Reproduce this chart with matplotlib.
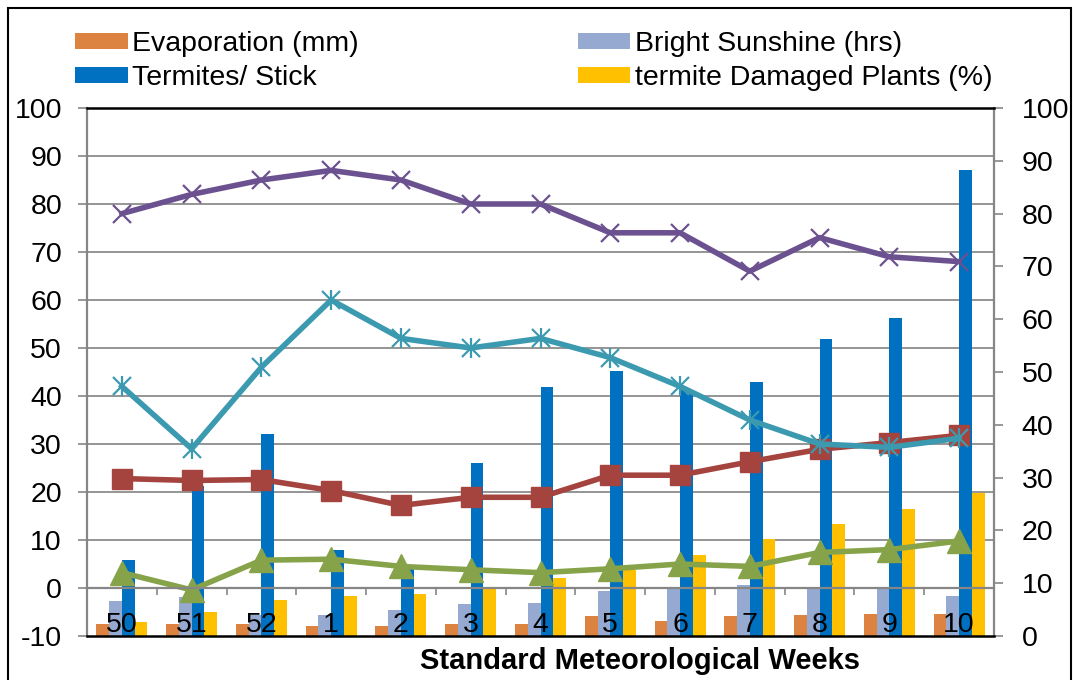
import matplotlib
matplotlib.use('Agg')
import matplotlib.pyplot as plt
from matplotlib.patches import Rectangle, Patch
from matplotlib.transforms import blended_transform_factory
import numpy as np

plt.rcParams['font.family'] = ['Liberation Sans', 'DejaVu Sans']

# ---------------- data ----------------
weeks = ['50', '51', '52', '1', '2', '3', '4', '5', '6', '7', '8', '9', '10']

# bars (right axis, 0-100)
evaporation = [2.2, 2.2, 2.2, 1.9, 1.9, 2.2, 2.2, 3.8, 2.8, 3.7, 3.9, 4.2, 4.2]
sunshine = [6.6, 7.4, 3.9, 4.0, 4.9, 6.0, 6.2, 8.6, 9.2, 9.7, 9.0, 9.0, 7.6]
termites = [14.4, 28.5, 38.2, 16.3, 12.8, 32.7, 47.2, 50.1, 46.5, 48.2, 56.2, 60.2, 88.3]
damaged = [2.7, 4.6, 6.8, 7.6, 8.0, 8.9, 11.0, 12.5, 15.4, 18.3, 21.2, 24.0, 27.1]

# lines (left axis, -10-100)
max_temp = [22.8, 22.4, 22.6, 20.3, 17.2, 18.9, 18.9, 23.5, 23.5, 26.3, 28.9, 30.3, 31.8]
min_temp = [3.2, -0.4, 5.8, 6.0, 4.5, 3.8, 3.2, 4.0, 5.0, 4.5, 7.4, 8.0, 9.8]
rh_morning = [78, 82, 85, 87, 85, 80, 80, 74, 74, 66, 73, 69, 68]
rh_evening = [42, 29, 46, 60, 52, 50, 52, 48, 42, 35, 30, 29.3, 31.2]

bar_labels = ['Evaporation (mm)', 'Termites/ Stick',
              'Bright Sunshine (hrs)', 'termite Damaged Plants (%)']
left_ticks = list(range(-10, 101, 10))
right_ticks = list(range(0, 101, 10))
xlabel = 'Standard Meteorological Weeks'

# ---------------- style ----------------
C_EVAP = '#DC8341'
C_SUN = '#95A9D1'
C_TERM = '#0070C0'
C_DAM = '#FFC000'
C_PURPLE = '#6C5190'
C_TEAL = '#3C9AB0'
C_RED = '#A5443F'
C_GREEN = '#86A34A'
GRID = '#8C8C8C'
AXIS = '#868686'
FS = 20.5

W, H = 1075, 680
fig = plt.figure(figsize=(W / 100, H / 100), dpi=100)
rect = [87 / W, 1 - 636 / H, (994 - 87) / W, (636 - 108) / H]

axb = fig.add_axes(rect)          # bars, right scale
ax = fig.add_axes(rect)           # lines, left scale
ax.patch.set_visible(False)

x = np.arange(len(weeks))
for a in (ax, axb):
    a.set_xlim(-0.5, len(weeks) - 0.5)

ax.set_ylim(-10, 100)
axb.set_ylim(0, 100)

# gridlines (behind bars), in left-axis units
tr = blended_transform_factory(axb.transAxes, ax.transData)
for v in left_ticks:
    if v in (-10, 0, 100):
        continue
    axb.plot([0, 1], [v, v], transform=tr, color=GRID, lw=1.3, zorder=0)

# bars
w = 0.183
for i, (vals, col) in enumerate([(evaporation, C_EVAP), (sunshine, C_SUN),
                                  (termites, C_TERM), (damaged, C_DAM)]):
    axb.bar(x + (i - 1.5) * w, vals, w, color=col, zorder=2, linewidth=0)

# lines
LW = 4.0
ax.plot(x, max_temp, color=C_RED, lw=LW, marker='s', ms=15, zorder=3)
ax.plot(x, min_temp, color=C_GREEN, lw=LW, marker='^', ms=17.5, zorder=3)
ax.plot(x, rh_morning, color=C_PURPLE, lw=LW, marker='x', ms=13, mew=1.6, zorder=3)
ax.plot(x, rh_evening, color=C_TEAL, lw=LW, marker='x', ms=13, mew=1.6, zorder=3)
ax.plot(x, rh_evening, color=C_TEAL, lw=0, marker='|', ms=15, mew=1.6, zorder=3)

# left axis (lines scale)
ax.set_yticks(left_ticks)
ax.set_yticklabels([str(t) for t in left_ticks])
ax.tick_params(axis='y', which='major', left=True, right=False, length=6.5,
               width=1.2, color=AXIS, labelsize=FS, pad=11.5, direction='out')

# right axis (bars scale)
axb.yaxis.tick_right()
axb.set_yticks(right_ticks)
axb.set_yticklabels([str(t) for t in right_ticks])
axb.tick_params(axis='y', which='major', right=True, left=False, length=6.5,
                width=1.2, color=AXIS, labelsize=FS, pad=13.5, direction='out')
axb.tick_params(axis='x', bottom=False, labelbottom=False)
for s in axb.spines.values():
    s.set_visible(False)

# x axis at 0
ax.spines['bottom'].set_position(('data', 0))
ax.spines['bottom'].set_color(AXIS)
ax.spines['bottom'].set_linewidth(1.6)
ax.spines['bottom'].set_zorder(4)
ax.spines['left'].set_color(AXIS)
ax.spines['left'].set_linewidth(1.6)
ax.spines['right'].set_color(AXIS)
ax.spines['right'].set_linewidth(1.6)
ax.spines['top'].set_color('black')
ax.spines['top'].set_linewidth(1.8)
ax.axhline(-10, color='black', lw=1.8, zorder=4, clip_on=False)

ax.set_xticks(x)
ax.set_xticklabels(weeks)
ax.set_xticks(np.arange(-0.5, len(weeks), 1), minor=True)
ax.tick_params(axis='x', which='major', length=0, labelsize=FS, pad=17)
ax.tick_params(axis='x', which='minor', length=5, width=1.2, color=AXIS,
               direction='out')
for lbl in ax.get_xticklabels():
    lbl.set_zorder(6)

# x label
fig.text(640 / W, 1 - 661 / H, xlabel, ha='center', va='center',
         fontsize=21, fontweight='bold')

# legend
handles = [Patch(facecolor=C_EVAP), Patch(facecolor=C_TERM),
           Patch(facecolor=C_SUN), Patch(facecolor=C_DAM)]
fig.legend(handles, bar_labels, ncol=2, loc='upper left',
           bbox_to_anchor=(75 / W, 1 - 31 / H), frameon=False, fontsize=FS,
           handlelength=1.85, handleheight=0.5, handletextpad=0.15,
           columnspacing=7.7, labelspacing=0.28, borderpad=0, borderaxespad=0)

# outer border
fig.add_artist(Rectangle((8 / W, -0.1), (1071 - 8) / W, (1 - 8 / H) + 0.1,
                         transform=fig.transFigure, fill=False,
                         edgecolor='black', lw=1.5))

fig.savefig('out.png', dpi=100)
